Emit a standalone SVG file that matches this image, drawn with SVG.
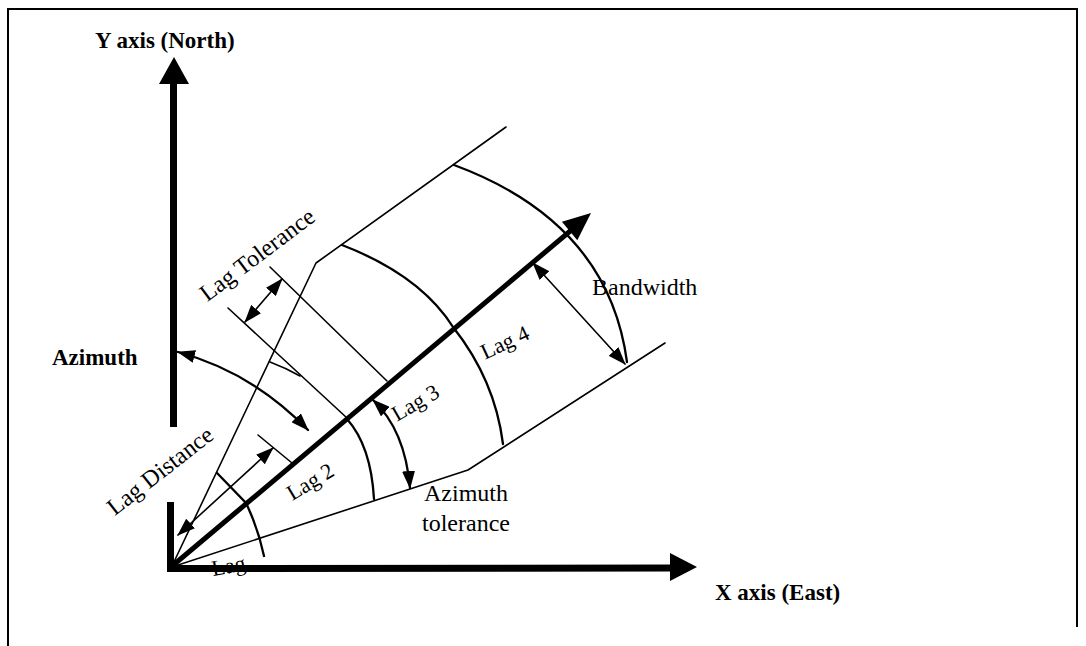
<svg xmlns="http://www.w3.org/2000/svg" width="1086" height="646" viewBox="0 0 1086 646">
<style>
.thin{stroke:#000;stroke-width:1.6;fill:none;stroke-linecap:round;stroke-linejoin:round}
.arc{stroke:#000;stroke-width:2.3;fill:none;stroke-linecap:round}
.axis{stroke:#000;stroke-width:7;fill:none}
.main{stroke:#000;stroke-width:5;fill:none}
.frame{stroke:#000;stroke-width:2;fill:none}
.lbl{font-family:"Liberation Serif","Times New Roman",serif;font-size:24px;fill:#000}
.b{font-weight:bold;font-size:23px}
.lag{font-size:22px}
</style>
<defs>
<marker id="ah" markerUnits="userSpaceOnUse" viewBox="0 0 18 13" markerWidth="18" markerHeight="13" refX="17" refY="6.5" orient="auto-start-reverse">
<path d="M0,0 L18,6.5 L0,13 z" fill="#000"/>
</marker>
</defs>
<rect width="1086" height="646" fill="#fff"/>
<g id="frame">
<path class="frame" d="M8,646 L8,9 L1077,9 L1077,627"/>
</g>
<g id="labels">
<text class="lbl b" x="95" y="48">Y axis (North)</text>
<text class="lbl b" x="52" y="365">Azimuth</text>
<text class="lbl b" x="715" y="600">X axis (East)</text>
<text class="lbl" x="424" y="501">Azimuth</text>
<text class="lbl" x="422" y="531">tolerance</text>
<text class="lbl" x="592" y="295">Bandwidth</text>
<text class="lbl" text-anchor="middle" transform="translate(262,261) rotate(-37)">Lag Tolerance</text>
<text class="lbl" text-anchor="middle" transform="translate(165,477) rotate(-38)">Lag Distance</text>
<text class="lbl lag" text-anchor="middle" transform="translate(314,488) rotate(-31)">Lag 2</text>
<text class="lbl lag" text-anchor="middle" transform="translate(419,409) rotate(-30)">Lag 3</text>
<text class="lbl lag" text-anchor="middle" transform="translate(508,349) rotate(-25)">Lag 4</text>
<text class="lbl lag" transform="translate(213,576) rotate(-10)">Lag</text>
</g>
<g id="zone">
<polyline class="thin" points="172,566 316,263 506,127"/>
<polyline class="thin" points="172,567 468,470 665,343"/>
<line class="thin" x1="228" y1="308" x2="347" y2="418"/>
<line class="thin" x1="270" y1="267" x2="387" y2="381"/>
<line class="thin" x1="258" y1="435" x2="292" y2="463"/>
<path class="arc" d="M217,473 L246,503 Q258,528 264,556"/>
<path class="thin" d="M270,362 Q286,368 300,376"/>
<path class="arc" d="M347,419 Q371,446 374,499"/>
<path class="arc" d="M342,245 Q420,275 453,327 Q495,380 503,444"/>
<path class="arc" d="M454,165 C535,195 612,250 627,362"/>
</g>
<g id="axes">
<line class="axis" x1="170.5" y1="572" x2="170.5" y2="502"/>
<line class="axis" x1="173.5" y1="427" x2="173.5" y2="80"/>
<polygon points="174,57 159,84 189,84" fill="#000"/>
<line class="axis" x1="167" y1="568.5" x2="673" y2="568"/>
<polygon points="697,567 670,553 670,581" fill="#000"/>
<line class="main" x1="171" y1="567" x2="575" y2="227"/>
<polygon points="591,213 577.3,240.2 561.9,221.8" fill="#000"/>
</g>
<g id="connectors">
<line class="thin" x1="178" y1="535" x2="273" y2="448" marker-start="url(#ah)" marker-end="url(#ah)"/>
<line class="thin" x1="245" y1="322" x2="282" y2="279" marker-start="url(#ah)" marker-end="url(#ah)"/>
<line class="thin" x1="533" y1="263" x2="625" y2="364" marker-start="url(#ah)" marker-end="url(#ah)"/>
<path class="arc" d="M178,352 Q252,372 308,430" marker-start="url(#ah)" marker-end="url(#ah)"/>
<path class="arc" d="M373,400 Q405,430 410,488" marker-start="url(#ah)" marker-end="url(#ah)"/>
</g>
</svg>
